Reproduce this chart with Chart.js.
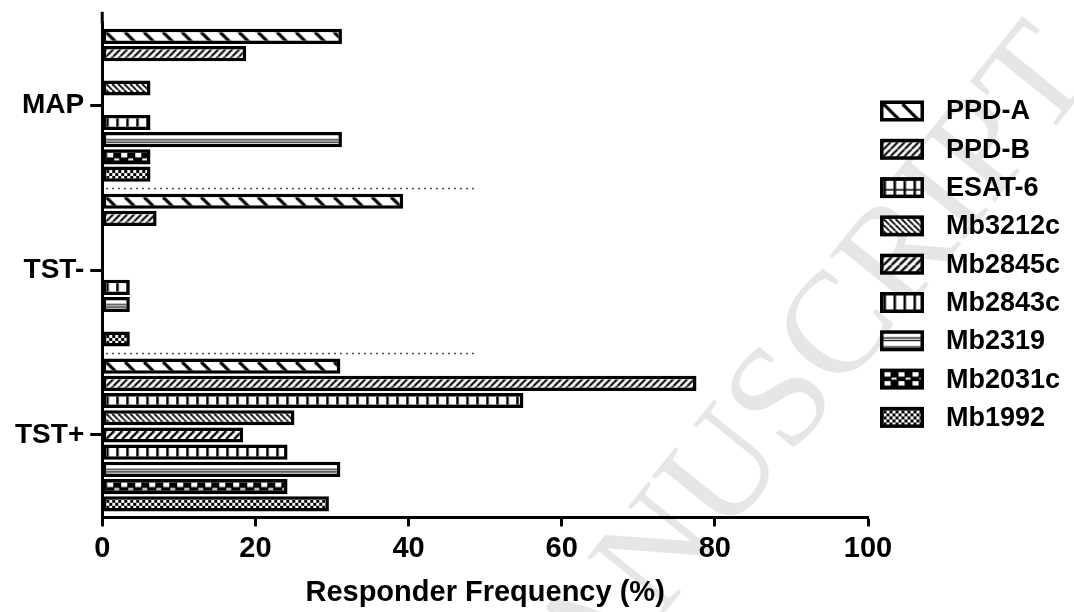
<!DOCTYPE html>
<html>
<head>
<meta charset="utf-8">
<script src="https://cdn.jsdelivr.net/npm/chart.js@4"></script>
<style>
  body { margin: 0; background: #fff; }
  canvas { display: block; }
</style>
</head>
<body>
<canvas id="responderChart" width="1074" height="612"></canvas>
<script>
// groups on the y axis, top to bottom
const categories = ['MAP', 'TST-', 'TST+'];

// antigens, in legend order (also top-to-bottom inside each group)
const antigens = ['PPD-A', 'PPD-B', 'ESAT-6', 'Mb3212c', 'Mb2845c', 'Mb2843c', 'Mb2319', 'Mb2031c', 'Mb1992'];

// responder frequency (%) per group: MAP, TST-, TST+
const ppdA    = [31.3, 39.3, 31.1];
const ppdB    = [18.8, 7.1, 77.6];
const esat6   = [0, 0, 55.0];
const mb3212c = [6.3, 0, 25.1];
const mb2845c = [0, 0, 18.4];
const mb2843c = [6.3, 3.6, 24.2];
const mb2319  = [31.3, 3.6, 31.1];
const mb2031c = [6.3, 0, 24.2];
const mb1992  = [6.3, 3.6, 29.6];

const seriesValues = [ppdA, ppdB, esat6, mb3212c, mb2845c, mb2843c, mb2319, mb2031c, mb1992];

const FONT = 'Arial, "Liberation Sans", sans-serif';
const BORDER = 3.5;

// ---- black & white fill patterns (one tile per antigen) ----
function makeTile(w, h, draw) {
    const c = document.createElement('canvas');
    c.width = w;
    c.height = h;
    const g = c.getContext('2d');
    g.fillStyle = '#fff';
    g.fillRect(0, 0, w, h);
    g.fillStyle = '#000';
    g.strokeStyle = '#000';
    draw(g, w, h);
    return c;
}

function backStripes(p, lw) {
    return makeTile(p, p, g => {
        g.lineWidth = lw;
        for (let k = -1; k <= 1; k++) {
            g.beginPath();
            g.moveTo(k * p, 0);
            g.lineTo(k * p + p, p);
            g.stroke();
        }
    });
}

function fwdStripes(p, lw) {
    return makeTile(p, p, g => {
        g.lineWidth = lw;
        for (let k = -1; k <= 1; k++) {
            g.beginPath();
            g.moveTo(k * p, p);
            g.lineTo(k * p + p, 0);
            g.stroke();
        }
    });
}

const tiles = [
    backStripes(19, 3.2),                     // PPD-A
    fwdStripes(7, 2),                         // PPD-B
    makeTile(10, 10, g => {                   // ESAT-6 grid
        g.fillRect(0, 0, 2.5, 10);
        g.fillRect(0, 8.5, 10, 1.5);
    }),
    backStripes(6, 1.8),                      // Mb3212c
    fwdStripes(8, 2.4),                       // Mb2845c
    makeTile(10, 10, g => g.fillRect(0, 0, 2.5, 10)), // Mb2843c
    makeTile(10, 9, g => {                    // Mb2319
        g.fillRect(0, 3.5, 10, 1.2);
        g.fillRect(0, 6, 10, 1.2);
    }),
    makeTile(14, 9, g => {                    // Mb2031c
        g.fillRect(0, 0, 14, 9);
        g.fillStyle = '#fff';
        g.fillRect(1, 0, 6, 4.5);
        g.fillRect(8, 5.5, 5, 2);
    }),
    makeTile(6, 6, g => {                     // Mb1992
        g.fillRect(0, 0, 3, 3);
        g.fillRect(3, 3, 3, 3);
    })
];

function alignedPattern(ctx, i, x, y) {
    const pat = ctx.createPattern(tiles[i], 'repeat');
    pat.setTransform(new DOMMatrix([1, 0, 0, 1, x, y]));
    return pat;
}

// give each bar its pattern, anchored to the bar's own corner
const barPatterns = {
    id: 'barPatterns',
    beforeDatasetsDraw(chart) {
        const ctx = chart.ctx;
        chart.data.datasets.forEach((ds, i) => {
            chart.getDatasetMeta(i).data.forEach(bar => {
                const p = bar.getProps(['x', 'y', 'base', 'height'], true);
                const left = Math.min(p.x, p.base) + BORDER;
                const top = p.y - p.height / 2 + BORDER;
                bar.options = Object.assign({}, bar.options, {
                    backgroundColor: alignedPattern(ctx, i, left, top)
                });
            });
        });
    }
};

// faint journal watermark behind everything
const watermark = {
    id: 'watermark',
    beforeDraw(chart) {
        const ctx = chart.ctx;
        ctx.save();
        ctx.translate(1068, 50);
        ctx.rotate(-51.2 * Math.PI / 180);
        ctx.font = '145px "Liberation Serif", "Times New Roman", serif';
        ctx.fillStyle = '#e6e6e6';
        ctx.textAlign = 'right';
        ctx.textBaseline = 'middle';
        ctx.fillText('ACCEPTED MANUSCRIPT', 0, 0);
        ctx.restore();
    }
};

// dotted separators between groups, axis stub, custom legend
const extras = {
    id: 'extras',
    afterDraw(chart) {
        const ctx = chart.ctx;
        const area = chart.chartArea;
        const y = chart.scales.y;
        const x = chart.scales.x;

        ctx.save();
        ctx.strokeStyle = '#000';
        ctx.lineWidth = 3;
        ctx.beginPath();
        ctx.moveTo(area.left, area.top - 11);
        ctx.lineTo(area.left, area.top + 1);
        ctx.stroke();

        ctx.lineWidth = 1.5;
        ctx.strokeStyle = '#111';
        ctx.setLineDash([1.5, 4.5]);
        for (let i = 0; i < categories.length - 1; i++) {
            const yy = Math.round((y.getPixelForValue(i) + y.getPixelForValue(i + 1)) / 2) + 0.5;
            ctx.beginPath();
            ctx.moveTo(area.left + 4, yy);
            ctx.lineTo(x.getPixelForValue(49), yy);
            ctx.stroke();
        }
        ctx.setLineDash([]);

        // legend
        ctx.font = 'bold 27px ' + FONT;
        ctx.textBaseline = 'middle';
        ctx.textAlign = 'left';
        chart.data.datasets.forEach((ds, i) => {
            const cy = 111 + i * 38.3;
            const bx = 880, bw = 44, bh = 21;
            const by = cy - bh / 2;
            ctx.fillStyle = '#000';
            ctx.fillRect(bx, by, bw, bh);
            ctx.fillStyle = alignedPattern(ctx, i, bx + BORDER, by + BORDER);
            ctx.fillRect(bx + BORDER, by + BORDER, bw - 2 * BORDER, bh - 2 * BORDER);
            ctx.fillStyle = '#000';
            ctx.fillText(ds.label, 946, cy + 1);
        });
        ctx.restore();
    }
};

const datasets = antigens.map((name, i) => ({
    label: name,
    data: seriesValues[i],
    backgroundColor: '#fff',
    borderColor: '#000',
    borderWidth: BORDER,
    borderSkipped: false,
    categoryPercentage: 0.94,
    barPercentage: 0.88
}));

new Chart(document.getElementById('responderChart').getContext('2d'), {
    type: 'bar',
    data: {
        labels: categories,
        datasets: datasets
    },
    options: {
        indexAxis: 'y',
        responsive: false,
        animation: false,
        layout: {
            padding: { left: 9, top: 17, right: 206, bottom: 2 }
        },
        plugins: {
            legend: { display: false },
            tooltip: { enabled: false }
        },
        scales: {
            x: {
                min: 0,
                max: 100,
                ticks: {
                    stepSize: 20,
                    color: '#000',
                    padding: 5,
                    font: { family: FONT, size: 29, weight: 'bold' }
                },
                grid: {
                    drawOnChartArea: false,
                    tickLength: 9,
                    tickWidth: 3,
                    tickColor: '#000'
                },
                border: { color: '#000', width: 3 },
                title: {
                    display: true,
                    text: 'Responder Frequency (%)',
                    color: '#000',
                    font: { family: FONT, size: 29, weight: 'bold' },
                    padding: { top: 4, bottom: 0 }
                }
            },
            y: {
                ticks: {
                    color: '#000',
                    padding: 6,
                    font: { family: FONT, size: 28, weight: 'bold' }
                },
                grid: {
                    offset: false,
                    drawOnChartArea: false,
                    tickLength: 12,
                    tickWidth: 3,
                    tickColor: '#000'
                },
                border: { color: '#000', width: 3 }
            }
        }
    },
    plugins: [watermark, barPatterns, extras]
});
</script>
</body>
</html>
